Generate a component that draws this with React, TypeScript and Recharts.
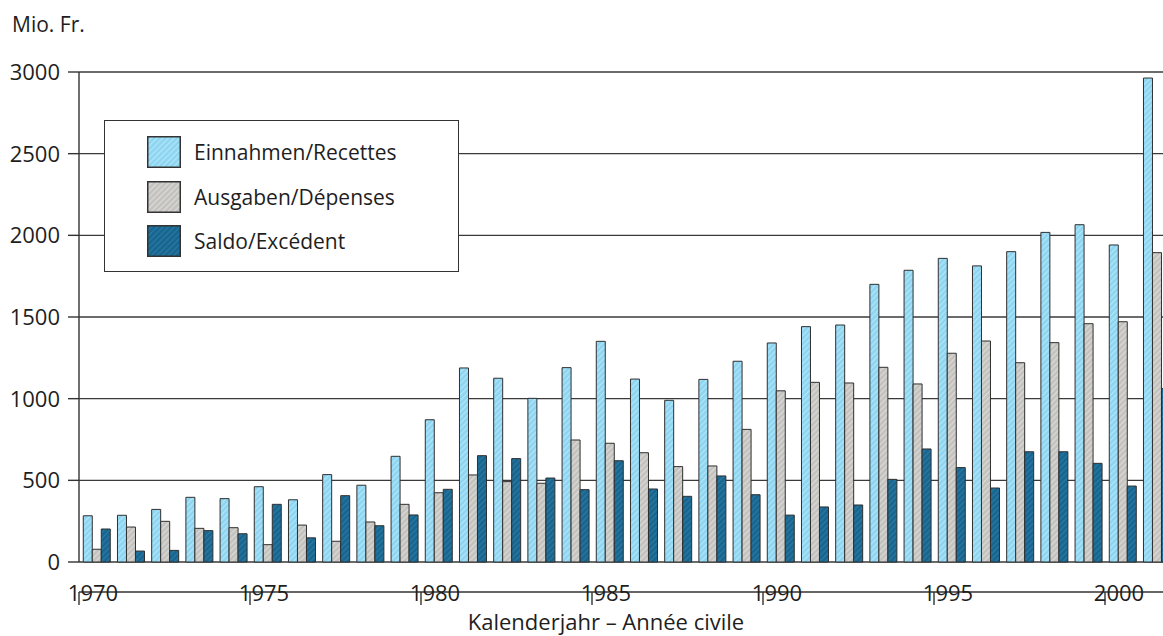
import React from 'react';
import { BarChart, Bar, XAxis, YAxis, CartesianGrid, Legend } from 'recharts';

const years = [1970, 1971, 1972, 1973, 1974, 1975, 1976, 1977, 1978, 1979, 1980, 1981, 1982, 1983, 1984, 1985, 1986, 1987, 1988, 1989, 1990, 1991, 1992, 1993, 1994, 1995, 1996, 1997, 1998, 1999, 2000, 2001];
const einnahmen = [283, 286, 322, 396, 388, 461, 381, 535, 470, 647, 871, 1188, 1125, 1002, 1190, 1351, 1120, 990, 1118, 1229, 1341, 1441, 1451, 1700, 1786, 1859, 1813, 1900, 2018, 2065, 1941, 2963];
const ausgaben = [78, 214, 249, 206, 210, 106, 226, 127, 245, 353, 424, 533, 492, 482, 747, 727, 669, 584, 588, 812, 1048, 1100, 1096, 1192, 1090, 1278, 1353, 1220, 1343, 1459, 1471, 1894];
const saldo = [202, 67, 71, 192, 173, 353, 148, 406, 222, 288, 445, 651, 633, 514, 443, 620, 447, 402, 527, 412, 287, 337, 349, 506, 692, 578, 453, 675, 675, 604, 465, 1063];
const yTicks = [0, 500, 1000, 1500, 2000, 2500, 3000];
const xTicks = [1970, 1975, 1980, 1985, 1990, 1995, 2000];

const seriesNames = ['Einnahmen/Recettes', 'Ausgaben/Dépenses', 'Saldo/Excédent'];
const colors = ['#8dd5f1', '#c3c2be', '#18658f'];
const stripes = ['#b4e6f8', '#dcdbd7', '#2a7aa3'];

const data = years.map((y, i) => ({
  year: y,
  einnahmen: einnahmen[i],
  ausgaben: ausgaben[i],
  saldo: saldo[i],
}));

const FONT = '"Open Sans", "Noto Sans", sans-serif';
const TXT = '#1e1e1e';

const XTick = (props: any) => {
  const { x, payload } = props;
  return (
    <text x={x + 14} y={601} textAnchor="middle" fontFamily={FONT} fontSize={22} fill={TXT}>
      {payload.value}
    </text>
  );
};

const YTick = (props: any) => {
  const { x, y, payload } = props;
  return (
    <text x={x} y={y + 8} textAnchor="end" fontFamily={FONT} fontSize={22} fill={TXT}>
      {payload.value}
    </text>
  );
};

const LegendBox = () => (
  <div
    style={{
      width: 355,
      height: 152,
      border: '1.6px solid #333',
      background: '#fff',
      boxSizing: 'border-box',
      position: 'relative',
      fontFamily: FONT,
      fontSize: 21,
      color: TXT,
    }}
  >
    {seriesNames.map((n, i) => (
      <div key={n} style={{ position: 'absolute', left: 42, top: 15 + i * 44.5, height: 32, display: 'flex', alignItems: 'center' }}>
        <svg width={34} height={32} style={{ display: 'block' }}>
          <rect x={0.75} y={0.75} width={32.5} height={30.5} fill={`url(#pat${i})`} stroke="#333" strokeWidth={1.5} />
        </svg>
        <span style={{ marginLeft: 13, whiteSpace: 'nowrap', lineHeight: '32px' }}>{n}</span>
      </div>
    ))}
  </div>
);

export default function App() {
  return (
    <div style={{ position: 'absolute', left: 0, top: 0, width: 1163, height: 636, overflow: 'hidden', background: '#fff' }}>
      <BarChart
        width={1200}
        height={636}
        data={data}
        margin={{ top: 72, right: 26.6, bottom: 0, left: 0 }}
        barCategoryGap="12.5%"
        barGap={0}
      >
        <defs>
          {colors.map((c, i) => (
            <pattern key={i} id={`pat${i}`} patternUnits="userSpaceOnUse" width={4} height={4} patternTransform="rotate(45)">
              <rect x={0} y={0} width={4} height={4} fill={c} />
              <rect x={0} y={0} width={1.2} height={4} fill={stripes[i]} />
            </pattern>
          ))}
        </defs>
        <CartesianGrid vertical={false} stroke="#3a3a3a" strokeWidth={1.4} />
        <XAxis dataKey="year" type="category" hide />
        <XAxis
          xAxisId="year"
          dataKey="year"
          type="number"
          domain={[1970, 2002]}
          allowDataOverflow
          ticks={xTicks}
          interval={0}
          height={74}
          tickSize={13}
          stroke="#333"
          strokeWidth={1.4}
          tick={<XTick />}
          label={{
            content: () => (
              <text x={606} y={630} textAnchor="middle" fontFamily={FONT} fontSize={22} fill={TXT}>
                Kalenderjahr – Année civile
              </text>
            ),
          }}
        />
        <YAxis
          width={79}
          domain={[0, 3000]}
          ticks={yTicks}
          interval={0}
          tickSize={11}
          tickMargin={8}
          stroke="#333"
          strokeWidth={1.4}
          tick={<YTick />}
          label={{
            content: () => (
              <text x={12} y={32} textAnchor="start" fontFamily={FONT} fontSize={21} fill={TXT}>
                Mio. Fr.
              </text>
            ),
          }}
        />
        <Legend
          layout="vertical"
          align="center"
          verticalAlign="middle"
          content={<LegendBox />}
          wrapperStyle={{ position: 'absolute', left: 104, top: 120, width: 355, height: 152 }}
        />
        <Bar dataKey="einnahmen" name={seriesNames[0]} fill="url(#pat0)" stroke="#2f2f2f" strokeWidth={1} isAnimationActive={false} />
        <Bar dataKey="ausgaben" name={seriesNames[1]} fill="url(#pat1)" stroke="#2f2f2f" strokeWidth={1} isAnimationActive={false} />
        <Bar dataKey="saldo" name={seriesNames[2]} fill="url(#pat2)" stroke="#2f2f2f" strokeWidth={1} isAnimationActive={false} />
      </BarChart>
    </div>
  );
}
